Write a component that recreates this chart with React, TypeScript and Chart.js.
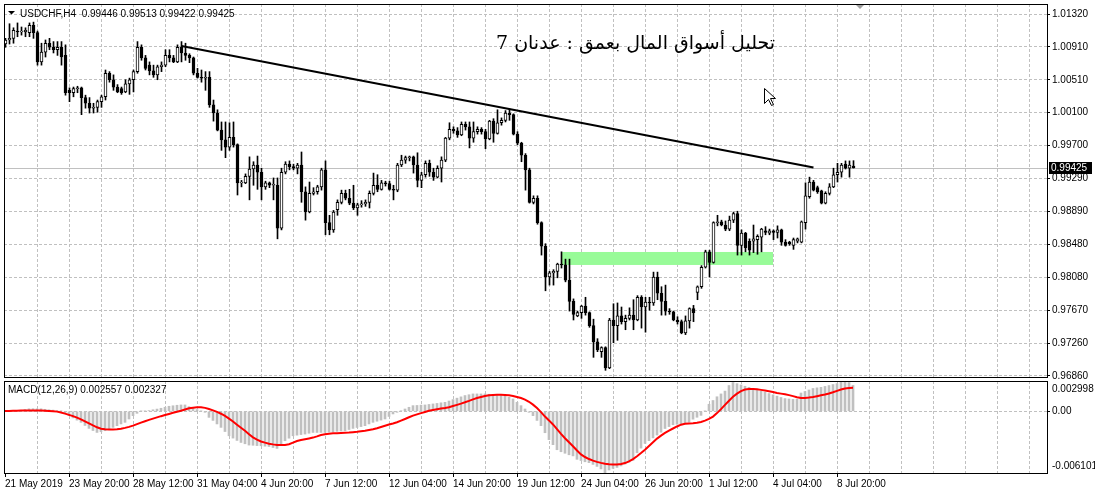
import React, { useEffect, useRef } from 'react';
import { Chart, registerables } from 'chart.js';

Chart.register(...registerables);

// ---------------- data ----------------
const SYMBOL_HEADER = 'USDCHF,H4  0.99446 0.99513 0.99422 0.99425';
const MACD_HEADER = 'MACD(12,26,9) 0.002557 0.002327';
const TITLE_AR = 'تحليل أسواق المال بعمق : عدنان 7';

const OPEN = [
  1.0095, 1.0100, 1.0102, 1.0111, 1.0110, 1.0110, 1.0109, 1.0118, 1.0109, 1.0073,
  1.0085, 1.0096, 1.0091, 1.0088, 1.0091, 1.0081, 1.0038, 1.0035, 1.0040, 1.0041,
  1.0029, 1.0022, 1.0016, 1.0017, 1.0024, 1.0030, 1.0059, 1.0051, 1.0042, 1.0040,
  1.0036, 1.0046, 1.0051, 1.0061, 1.0091, 1.0078, 1.0069, 1.0062, 1.0057, 1.0067,
  1.0069, 1.0081, 1.0078, 1.0073, 1.0091, 1.0084, 1.0081, 1.0078, 1.0059, 1.0054,
  1.0053, 1.0054, 1.0020, 1.0010, 0.9989, 0.9977, 0.9968, 0.9980, 0.9971, 0.9924,
  0.9924, 0.9932, 0.9941, 0.9946, 0.9937, 0.9919, 0.9924, 0.9921, 0.9921, 0.9868,
  0.9937, 0.9947, 0.9944, 0.9942, 0.9946, 0.9913, 0.9888, 0.9911, 0.9913, 0.9919,
  0.9940, 0.9875, 0.9866, 0.9891, 0.9900, 0.9911, 0.9905, 0.9899, 0.9893, 0.9897,
  0.9898, 0.9900, 0.9911, 0.9921, 0.9916, 0.9924, 0.9923, 0.9916, 0.9915, 0.9946,
  0.9952, 0.9955, 0.9956, 0.9946, 0.9927, 0.9934, 0.9948, 0.9937, 0.9931, 0.9942,
  0.9952, 0.9979, 0.9990, 0.9988, 0.9983, 0.9996, 0.9993, 0.9979, 0.9987, 0.9990,
  0.9987, 0.9978, 1.0000, 0.9985, 0.9998, 1.0001, 1.0010, 1.0008, 0.9984, 0.9973,
  0.9958, 0.9940, 0.9900, 0.9905, 0.9875, 0.9846, 0.9808, 0.9813, 0.9815, 0.9824,
  0.9823, 0.9804, 0.9778, 0.9760, 0.9764, 0.9772, 0.9764, 0.9748, 0.9728, 0.9716,
  0.9721, 0.9696, 0.9755, 0.9748, 0.9760, 0.9753, 0.9757, 0.9761, 0.9755, 0.9783,
  0.9771, 0.9777, 0.9776, 0.9808, 0.9788, 0.9778, 0.9766, 0.9765, 0.9755, 0.9753,
  0.9739, 0.9754, 0.9769, 0.9789, 0.9796, 0.9820, 0.9839, 0.9826, 0.9875, 0.9876,
  0.9872, 0.9867, 0.9878, 0.9886, 0.9847, 0.9862, 0.9852, 0.9852, 0.9854, 0.9857,
  0.9865, 0.9862, 0.9865, 0.9863, 0.9866, 0.9851, 0.9851, 0.9847, 0.9852, 0.9851,
  0.9875, 0.9907, 0.9925, 0.9918, 0.9914, 0.9899, 0.9911, 0.9919, 0.9934, 0.9937,
  0.9947, 0.9942, 0.99446,
];

const HIGH = [
  1.0102, 1.0120, 1.0115, 1.0121, 1.0116, 1.0115, 1.0121, 1.0122, 1.0111, 1.0096,
  1.0100, 1.0102, 1.0098, 1.0098, 1.0098, 1.0094, 1.0041, 1.0042, 1.0043, 1.0042,
  1.0032, 1.0029, 1.0022, 1.0026, 1.0032, 1.0063, 1.0061, 1.0057, 1.0045, 1.0042,
  1.0051, 1.0053, 1.0063, 1.0098, 1.0094, 1.0081, 1.0073, 1.0069, 1.0069, 1.0073,
  1.0088, 1.0088, 1.0081, 1.0094, 1.0098, 1.0096, 1.0083, 1.0079, 1.0065, 1.0063,
  1.0061, 1.0061, 1.0026, 1.0014, 0.9999, 0.9999, 0.9998, 0.9999, 0.9972, 0.9927,
  0.9935, 0.9956, 0.9950, 0.9957, 0.9942, 0.9926, 0.9925, 0.9930, 0.9930, 0.9942,
  0.9950, 0.9951, 0.9947, 0.9948, 0.9962, 0.9919, 0.9925, 0.9918, 0.9921, 0.9942,
  0.9951, 0.9884, 0.9890, 0.9903, 0.9915, 0.9915, 0.9916, 0.9921, 0.9899, 0.9902,
  0.9903, 0.9914, 0.9936, 0.9934, 0.9927, 0.9926, 0.9926, 0.9921, 0.9948, 0.9958,
  0.9957, 0.9957, 0.9957, 0.9961, 0.9937, 0.9951, 0.9952, 0.9942, 0.9945, 0.9956,
  0.9980, 0.9998, 0.9993, 0.9992, 0.9999, 0.9999, 0.9999, 0.9999, 0.9993, 0.9992,
  0.9990, 1.0001, 1.0003, 1.0014, 1.0004, 1.0013, 1.0015, 1.0009, 0.9987, 0.9974,
  0.9960, 0.9942, 0.9908, 0.9908, 0.9876, 0.9849, 0.9815, 0.9817, 0.9825, 0.9839,
  0.9830, 0.9830, 0.9781, 0.9766, 0.9773, 0.9783, 0.9765, 0.9756, 0.9732, 0.9722,
  0.9722, 0.9757, 0.9775, 0.9776, 0.9771, 0.9761, 0.9770, 0.9780, 0.9785, 0.9785,
  0.9783, 0.9783, 0.9814, 0.9814, 0.9796, 0.9798, 0.9769, 0.9766, 0.9759, 0.9755,
  0.9760, 0.9770, 0.9773, 0.9797, 0.9822, 0.9841, 0.9841, 0.9876, 0.9884, 0.9878,
  0.9877, 0.9883, 0.9888, 0.9889, 0.9866, 0.9863, 0.9855, 0.9872, 0.9860, 0.9868,
  0.9870, 0.9867, 0.9866, 0.9871, 0.9867, 0.9854, 0.9852, 0.9856, 0.9856, 0.9877,
  0.9924, 0.9931, 0.9927, 0.9920, 0.9915, 0.9913, 0.9923, 0.9942, 0.9948, 0.9948,
  0.9951, 0.9951, 0.99513,
];

const LOW = [
  1.0091, 1.0095, 1.0096, 1.0104, 1.0106, 1.0104, 1.0104, 1.0102, 1.0069, 1.0069,
  1.0079, 1.0088, 1.0084, 1.0081, 1.0069, 1.0032, 1.0024, 1.0030, 1.0035, 1.0008,
  1.0016, 1.0010, 1.0010, 1.0011, 1.0017, 1.0026, 1.0048, 1.0038, 1.0035, 1.0033,
  1.0035, 1.0033, 1.0036, 1.0059, 1.0075, 1.0063, 1.0057, 1.0054, 1.0051, 1.0061,
  1.0067, 1.0073, 1.0072, 1.0072, 1.0073, 1.0075, 1.0072, 1.0057, 1.0053, 1.0048,
  1.0038, 1.0017, 1.0000, 0.9988, 0.9964, 0.9955, 0.9964, 0.9968, 0.9909, 0.9919,
  0.9923, 0.9903, 0.9921, 0.9916, 0.9903, 0.9916, 0.9918, 0.9903, 0.9855, 0.9866,
  0.9935, 0.9940, 0.9940, 0.9935, 0.9900, 0.9878, 0.9887, 0.9909, 0.9910, 0.9915,
  0.9860, 0.9860, 0.9863, 0.9884, 0.9898, 0.9903, 0.9897, 0.9891, 0.9884, 0.9894,
  0.9895, 0.9893, 0.9909, 0.9913, 0.9915, 0.9920, 0.9915, 0.9903, 0.9913, 0.9944,
  0.9948, 0.9951, 0.9936, 0.9919, 0.9918, 0.9931, 0.9932, 0.9927, 0.9930, 0.9925,
  0.9950, 0.9977, 0.9985, 0.9980, 0.9982, 0.9989, 0.9967, 0.9974, 0.9984, 0.9984,
  0.9966, 0.9977, 0.9974, 0.9984, 0.9995, 0.9999, 1.0001, 0.9983, 0.9971, 0.9950,
  0.9915, 0.9899, 0.9898, 0.9873, 0.9835, 0.9791, 0.9798, 0.9798, 0.9807, 0.9819,
  0.9802, 0.9766, 0.9755, 0.9759, 0.9757, 0.9761, 0.9746, 0.9709, 0.9716, 0.9709,
  0.9693, 0.9695, 0.9727, 0.9730, 0.9750, 0.9743, 0.9755, 0.9743, 0.9754, 0.9745,
  0.9740, 0.9767, 0.9773, 0.9780, 0.9761, 0.9761, 0.9762, 0.9754, 0.9750, 0.9738,
  0.9737, 0.9745, 0.9753, 0.9780, 0.9794, 0.9819, 0.9808, 0.9825, 0.9871, 0.9871,
  0.9865, 0.9865, 0.9875, 0.9835, 0.9835, 0.9839, 0.9835, 0.9838, 0.9836, 0.9839,
  0.9860, 0.9860, 0.9854, 0.9856, 0.9847, 0.9846, 0.9847, 0.9842, 0.9850, 0.9850,
  0.9867, 0.9905, 0.9914, 0.9911, 0.9898, 0.9898, 0.9909, 0.9918, 0.9925, 0.9931,
  0.9941, 0.9931, 0.99422,
];

const CLOSE = [
  1.0100, 1.0102, 1.0112, 1.0110, 1.0111, 1.0112, 1.0118, 1.0109, 1.0073, 1.0085,
  1.0096, 1.0091, 1.0088, 1.0091, 1.0079, 1.0035, 1.0035, 1.0040, 1.0041, 1.0029,
  1.0022, 1.0016, 1.0017, 1.0024, 1.0030, 1.0059, 1.0051, 1.0042, 1.0036, 1.0035,
  1.0046, 1.0051, 1.0061, 1.0091, 1.0078, 1.0065, 1.0062, 1.0057, 1.0067, 1.0069,
  1.0081, 1.0078, 1.0073, 1.0091, 1.0084, 1.0081, 1.0078, 1.0059, 1.0054, 1.0053,
  1.0054, 1.0020, 1.0010, 0.9989, 0.9977, 0.9968, 0.9980, 0.9971, 0.9924, 0.9925,
  0.9932, 0.9941, 0.9946, 0.9937, 0.9919, 0.9924, 0.9921, 0.9922, 0.9868, 0.9937,
  0.9947, 0.9944, 0.9942, 0.9946, 0.9913, 0.9888, 0.9911, 0.9913, 0.9919, 0.9940,
  0.9875, 0.9866, 0.9888, 0.9900, 0.9911, 0.9905, 0.9899, 0.9893, 0.9897, 0.9898,
  0.9900, 0.9911, 0.9921, 0.9916, 0.9924, 0.9923, 0.9916, 0.9915, 0.9946, 0.9952,
  0.9955, 0.9956, 0.9946, 0.9927, 0.9934, 0.9948, 0.9937, 0.9931, 0.9942, 0.9952,
  0.9979, 0.9990, 0.9988, 0.9983, 0.9996, 0.9993, 0.9979, 0.9987, 0.9990, 0.9987,
  0.9978, 1.0000, 0.9985, 0.9998, 1.0001, 1.0010, 1.0008, 0.9984, 0.9973, 0.9958,
  0.9940, 0.9900, 0.9905, 0.9875, 0.9846, 0.9808, 0.9813, 0.9815, 0.9824, 0.9823,
  0.9804, 0.9778, 0.9762, 0.9764, 0.9772, 0.9764, 0.9748, 0.9728, 0.9718, 0.9721,
  0.9696, 0.9755, 0.9748, 0.9760, 0.9753, 0.9757, 0.9761, 0.9755, 0.9783, 0.9771,
  0.9777, 0.9776, 0.9808, 0.9788, 0.9778, 0.9766, 0.9765, 0.9755, 0.9753, 0.9739,
  0.9754, 0.9769, 0.9764, 0.9796, 0.9820, 0.9839, 0.9826, 0.9875, 0.9876, 0.9872,
  0.9867, 0.9878, 0.9886, 0.9847, 0.9862, 0.9844, 0.9841, 0.9855, 0.9858, 0.9867,
  0.9863, 0.9865, 0.9863, 0.9866, 0.9851, 0.9847, 0.9849, 0.9854, 0.9855, 0.9876,
  0.9908, 0.9925, 0.9915, 0.9913, 0.9899, 0.9911, 0.9919, 0.9934, 0.9937, 0.9946,
  0.9942, 0.9946, 0.99425,
];

const MACD_MAIN = [
  0.00005, 0.00007, 0.00008, 0.00010, 0.00010, 0.00018, 0.00025, 0.00026, 0.00025, 0.00025,
  0.00020, 0.00015, 0.00012, 0.00008, 0.00005, -0.00015, -0.00043, -0.00065, -0.00087, -0.00109,
  -0.00140, -0.00169, -0.00190, -0.00209, -0.00202, -0.00192, -0.00176, -0.00159, -0.00142, -0.00125,
  -0.00109, -0.00076, -0.00043, -0.00020, 0.00001, 0.00004, 0.00007, 0.00015, 0.00022, 0.00030,
  0.00040, 0.00050, 0.00055, 0.00060, 0.00063, 0.00063, 0.00046, 0.00030, 0.00017, 0.00003,
  -0.00010, -0.00060, -0.00090, -0.00125, -0.00159, -0.00200, -0.00242, -0.00265, -0.00288, -0.00308,
  -0.00321, -0.00334, -0.00336, -0.00339, -0.00341, -0.00345, -0.00348, -0.00358, -0.00367, -0.00330,
  -0.00291, -0.00266, -0.00242, -0.00236, -0.00230, -0.00225, -0.00217, -0.00209, -0.00209, -0.00209,
  -0.00209, -0.00205, -0.00202, -0.00198, -0.00195, -0.00192, -0.00180, -0.00169, -0.00160, -0.00151,
  -0.00142, -0.00125, -0.00109, -0.00098, -0.00087, -0.00076, -0.00051, -0.00026, -0.00010, 0.00006,
  0.00023, 0.00040, 0.00056, 0.00058, 0.00061, 0.00063, 0.00068, 0.00073, 0.00078, 0.00084,
  0.00089, 0.00102, 0.00116, 0.00130, 0.00143, 0.00156, 0.00164, 0.00172, 0.00172, 0.00172,
  0.00172, 0.00169, 0.00166, 0.00163, 0.00160, 0.00156, 0.00139, 0.00122, 0.00089, 0.00056,
  0.00023, -0.00010, -0.00043, -0.00090, -0.00142, -0.00212, -0.00280, -0.00330, -0.00380, -0.00400,
  -0.00415, -0.00430, -0.00441, -0.00475, -0.00487, -0.00499, -0.00508, -0.00525, -0.00545, -0.00570,
  -0.006101, -0.00580, -0.00565, -0.00555, -0.00540, -0.00522, -0.00503, -0.00485, -0.00410, -0.00364,
  -0.00318, -0.00290, -0.00263, -0.00235, -0.00207, -0.00170, -0.00151, -0.00133, -0.00128, -0.00122,
  -0.00114, -0.00107, -0.00078, -0.00059, -0.00040, 0.00004, 0.00070, 0.00107, 0.00144, 0.00172,
  0.00200, 0.00255, 0.00285, 0.00274, 0.00261, 0.00248, 0.00237, 0.00226, 0.00211, 0.00200,
  0.00189, 0.00176, 0.00163, 0.00150, 0.00137, 0.00126, 0.00122, 0.00118, 0.00120, 0.00181,
  0.00196, 0.00211, 0.00226, 0.00232, 0.00237, 0.00246, 0.00255, 0.00265, 0.00274, 0.00287,
  0.002998, 0.00285, 0.002557,
];

const MACD_SIGNAL = [
  0.00003, 0.00004, 0.00005, 0.00006, 0.00007, 0.00008, 0.00008, 0.00008, 0.00007, 0.00007,
  0.00005, 0.00003, 0.00001, -0.00003, -0.00012, -0.00023, -0.00035, -0.00048, -0.00062, -0.00080,
  -0.00100, -0.00120, -0.00140, -0.00158, -0.00172, -0.00178, -0.00180, -0.00180, -0.00178, -0.00172,
  -0.00164, -0.00154, -0.00142, -0.00127, -0.00112, -0.00098, -0.00085, -0.00072, -0.00060, -0.00048,
  -0.00037, -0.00026, -0.00015, -0.00005, 0.00006, 0.00018, 0.00030, 0.00036, 0.00039, 0.00040,
  0.00034, 0.00023, 0.00009, -0.00006, -0.00024, -0.00046, -0.00072, -0.00100, -0.00132, -0.00163,
  -0.00193, -0.00226, -0.00258, -0.00280, -0.00298, -0.00310, -0.00320, -0.00327, -0.00332, -0.00334,
  -0.00332, -0.00325, -0.00310, -0.00294, -0.00284, -0.00276, -0.00268, -0.00260, -0.00248, -0.00235,
  -0.00226, -0.00221, -0.00218, -0.00216, -0.00214, -0.00212, -0.00210, -0.00206, -0.00202, -0.00197,
  -0.00192, -0.00185, -0.00178, -0.00167, -0.00155, -0.00143, -0.00131, -0.00120, -0.00108, -0.00092,
  -0.00076, -0.00059, -0.00043, -0.00030, -0.00018, -0.00006, 0.00005, 0.00013, 0.00020, 0.00027,
  0.00033, 0.00040, 0.00052, 0.00064, 0.00076, 0.00089, 0.00103, 0.00118, 0.00131, 0.00142,
  0.00152, 0.00159, 0.00162, 0.00164, 0.00164, 0.00162, 0.00158, 0.00152, 0.00142, 0.00131,
  0.00116, 0.00094, 0.00066, 0.00032, -0.00008, -0.00052, -0.00090, -0.00130, -0.00176, -0.00224,
  -0.00266, -0.00306, -0.00346, -0.00388, -0.00426, -0.00452, -0.00472, -0.00488, -0.00500, -0.00510,
  -0.00518, -0.00523, -0.00525, -0.00525, -0.00522, -0.00512, -0.00495, -0.00472, -0.00444, -0.00413,
  -0.00380, -0.00343, -0.00306, -0.00270, -0.00240, -0.00213, -0.00190, -0.00170, -0.00150, -0.00132,
  -0.00124, -0.00120, -0.00117, -0.00112, -0.00105, -0.00092, -0.00075, -0.00052, -0.00018, 0.00022,
  0.00064, 0.00105, 0.00144, 0.00175, 0.00200, 0.00215, 0.00220, 0.00220, 0.00218, 0.00212,
  0.00205, 0.00198, 0.00190, 0.00182, 0.00175, 0.00168, 0.00160, 0.00150, 0.00140, 0.00132,
  0.00132, 0.00136, 0.00142, 0.00150, 0.00158, 0.00166, 0.00176, 0.00188, 0.00202, 0.00216,
  0.00225, 0.00230, 0.002327,
];

const PRICE_TICK_LABELS = [
  '0.96860', '0.97260', '0.97670', '0.98080', '0.98480', '0.98890',
  '0.99290', '0.99700', '1.00100', '1.00510', '1.00910', '1.01320',
];
const PRICE_GRID_BOTTOM = 0.9686;
const PRICE_GRID_TOP = 1.0132;

const DATE_TICK_BARS = [0, 16, 32, 48, 64, 80, 96, 112, 128, 144, 160, 176, 192, 208];
const DATE_TICK_TEXT = [
  '21 May 2019', '23 May 20:00', '28 May 12:00', '31 May 04:00', '4 Jun 20:00', '7 Jun 12:00',
  '12 Jun 04:00', '14 Jun 20:00', '19 Jun 12:00', '24 Jun 04:00', '26 Jun 20:00', '1 Jul 12:00',
  '4 Jul 04:00', '8 Jul 20:00',
];

const TREND_BARS = [44, 202];
const TREND_PRICES = [1.00925, 0.9943];

const ZONE_BARS = [139, 192];
const ZONE_PRICES = [0.98228, 0.98388];

const BID = 0.99425;
const BID_TEXT = '0.99425';

const MACD_MIN = -0.006101;
const MACD_MAX = 0.002998;
const MACD_TICK_LABELS = ['-0.006101', '0.00', '0.002998'];

// ---------------- layout constants ----------------
const W = 1095;
const H = 496;
const GRID = '#c0c0c0';
const FONT = { family: 'Liberation Sans', size: 10 };
const GRID_BARS = Array.from({ length: 33 }, (_, k) => k * 8);

function framePlugin(id: string) {
  return {
    id,
    afterDraw(chart: any) {
      const { ctx, chartArea } = chart;
      ctx.save();
      ctx.strokeStyle = '#000';
      ctx.lineWidth = 1;
      ctx.strokeRect(chartArea.left + 0.5, chartArea.top + 0.5, chartArea.right - chartArea.left, chartArea.bottom - chartArea.top);
      ctx.restore();
    },
  };
}

const mainOverlay = {
  id: 'mainOverlay',
  beforeDatasetsDraw(chart: any) {
    const { ctx, chartArea, scales } = chart;
    const x = scales.x;
    const y = scales.y;
    ctx.save();
    const zx1 = Math.round(x.getPixelForValue(ZONE_BARS[0]) - 0.5);
    const zx2 = Math.round(x.getPixelForValue(ZONE_BARS[1]) - 0.5);
    const zy1 = y.getPixelForValue(ZONE_PRICES[1]);
    const zy2 = y.getPixelForValue(ZONE_PRICES[0]);
    ctx.fillStyle = '#98fb98';
    ctx.fillRect(zx1, zy1, zx2 - zx1, zy2 - zy1);
    const by = Math.round(y.getPixelForValue(BID)) + 0.5;
    ctx.strokeStyle = GRID;
    ctx.lineWidth = 1;
    ctx.beginPath();
    ctx.moveTo(chartArea.left, by);
    ctx.lineTo(chartArea.right, by);
    ctx.stroke();
    ctx.restore();
  },
  afterDraw(chart: any) {
    const { ctx, chartArea, scales } = chart;
    const y = scales.y;
    ctx.save();
    ctx.fillStyle = '#000';
    ctx.beginPath();
    ctx.moveTo(8, 11);
    ctx.lineTo(15, 11);
    ctx.lineTo(11.5, 14.5);
    ctx.closePath();
    ctx.fill();
    ctx.font = '10px "Liberation Sans"';
    ctx.textBaseline = 'alphabetic';
    ctx.textAlign = 'left';
    ctx.fillText(SYMBOL_HEADER, 20, 17);
    ctx.font = '19px "DejaVu Serif", "DejaVu Sans", serif';
    (ctx as any).direction = 'rtl';
    ctx.textAlign = 'right';
    ctx.fillText(TITLE_AR, 775, 49);
    (ctx as any).direction = 'ltr';
    const by = Math.round(y.getPixelForValue(BID));
    ctx.fillStyle = '#000';
    ctx.fillRect(chartArea.right + 2, by - 6, 43, 12);
    ctx.fillStyle = '#fff';
    ctx.font = '10px "Liberation Sans"';
    ctx.textAlign = 'left';
    ctx.textBaseline = 'middle';
    ctx.fillText(BID_TEXT, chartArea.right + 4, by + 0.5);
    ctx.fillStyle = '#a0a0a0';
    ctx.beginPath();
    ctx.moveTo(855, 4);
    ctx.lineTo(865, 4);
    ctx.lineTo(860, 9);
    ctx.closePath();
    ctx.fill();
    const cx = 764.5, cy = 88.5;
    ctx.beginPath();
    ctx.moveTo(cx, cy);
    ctx.lineTo(cx, cy + 15);
    ctx.lineTo(cx + 4, cy + 11);
    ctx.lineTo(cx + 7, cy + 17);
    ctx.lineTo(cx + 9, cy + 16);
    ctx.lineTo(cx + 6, cy + 10);
    ctx.lineTo(cx + 11, cy + 10);
    ctx.closePath();
    ctx.fillStyle = '#fff';
    ctx.fill();
    ctx.strokeStyle = '#000';
    ctx.lineWidth = 1;
    ctx.stroke();
    ctx.restore();
  },
};

const macdOverlay = {
  id: 'macdOverlay',
  afterDraw(chart: any) {
    const { ctx } = chart;
    ctx.save();
    ctx.fillStyle = '#000';
    ctx.font = '10px "Liberation Sans"';
    ctx.textAlign = 'left';
    ctx.textBaseline = 'alphabetic';
    ctx.fillText(MACD_HEADER, 8, 393);
    ctx.restore();
  },
};

export default function App() {
  const mainRef = useRef<HTMLCanvasElement>(null);
  const macdRef = useRef<HTMLCanvasElement>(null);

  useEffect(() => {
    const bars = OPEN.map((_, i) => i);
    const wickData = bars.map((i) => ({ x: i, y: [LOW[i], HIGH[i]] }));
    const bodyData = bars.map((i) => ({ x: i, y: [OPEN[i], CLOSE[i]] }));
    const bodyColors = bars.map((i) => (CLOSE[i] >= OPEN[i] ? '#ffffff' : '#000000'));
    const trendData = TREND_BARS.map((b, k) => ({ x: b, y: TREND_PRICES[k] }));

    const perPx = (PRICE_GRID_TOP - PRICE_GRID_BOTTOM) / 362;
    const yMax = PRICE_GRID_TOP + 10 * perPx;
    const yMin = PRICE_GRID_BOTTOM - 1 * perPx;
    const step = (PRICE_GRID_TOP - PRICE_GRID_BOTTOM) / (PRICE_TICK_LABELS.length - 1);

    const mainChart = new Chart(mainRef.current as HTMLCanvasElement, {
      type: 'bar',
      data: {
        datasets: [
          { type: 'line', data: trendData, borderColor: '#000', borderWidth: 2, pointRadius: 0, tension: 0, order: -1 } as any,
          { data: bodyData, backgroundColor: bodyColors, borderColor: '#000', borderWidth: 1, borderSkipped: false, barThickness: 3, grouped: false, order: 0 } as any,
          { data: wickData, backgroundColor: '#000', borderWidth: 0, barThickness: 1, grouped: false, order: 1 } as any,
        ],
      },
      options: {
        animation: false,
        responsive: false,
        maintainAspectRatio: false,
        events: [],
        layout: { padding: { left: 4, top: 4, right: 0, bottom: H - 377 } },
        plugins: { legend: { display: false }, tooltip: { enabled: false } },
        scales: {
          x: {
            type: 'linear',
            min: -0.375,
            max: -0.375 + 1043 / 4,
            offset: false,
            afterBuildTicks: (s: any) => { s.ticks = GRID_BARS.map((v) => ({ value: v })); },
            ticks: { display: false, autoSkip: false },
            grid: { color: (c: any) => (c.tick && c.tick.value > 0 ? GRID : 'transparent'), drawTicks: false, offset: false },
            border: { display: false, dash: [3, 2] },
            afterFit: (s: any) => { s.height = 0; s.paddingLeft = 0; s.paddingRight = 0; },
          },
          y: {
            type: 'linear',
            position: 'right',
            min: yMin,
            max: yMax,
            afterBuildTicks: (s: any) => {
              s.ticks = PRICE_TICK_LABELS.map((_, k) => ({ value: PRICE_GRID_BOTTOM + k * step }));
            },
            ticks: { autoSkip: false, color: '#000', font: FONT, padding: 2, callback: (_v: any, i: number) => PRICE_TICK_LABELS[i] },
            grid: { color: GRID, tickColor: '#000', tickLength: 3 },
            border: { display: false, dash: [3, 2] },
            afterFit: (s: any) => { s.width = 48; s.paddingTop = 0; s.paddingBottom = 0; },
          },
        },
      } as any,
      plugins: [mainOverlay, framePlugin('mainFrame')],
    });

    const macdBars = MACD_MAIN.map((v, i) => ({ x: i, y: v }));
    const signalPts = MACD_SIGNAL.map((v, i) => ({ x: i, y: v }));
    const mPer = (MACD_MAX - MACD_MIN) / 92;
    const macdTickVals = [MACD_MIN + 7 * mPer, 0, MACD_MAX - 8 * mPer];

    const macdChart = new Chart(macdRef.current as HTMLCanvasElement, {
      type: 'bar',
      data: {
        datasets: [
          { type: 'line', data: signalPts, borderColor: '#ff0000', borderWidth: 2, pointRadius: 0, tension: 0, order: 0 } as any,
          { data: macdBars, backgroundColor: GRID, borderWidth: 0, barThickness: 2, grouped: false, order: 1 } as any,
        ],
      },
      options: {
        animation: false,
        responsive: false,
        maintainAspectRatio: false,
        events: [],
        layout: { padding: { left: 4, top: 381, right: 0, bottom: 3 } },
        plugins: { legend: { display: false }, tooltip: { enabled: false } },
        scales: {
          x: {
            type: 'linear',
            min: -0.25,
            max: -0.25 + 1043 / 4,
            offset: false,
            afterBuildTicks: (s: any) => { s.ticks = GRID_BARS.map((v) => ({ value: v })); },
            ticks: {
              autoSkip: false, maxRotation: 0, minRotation: 0, align: 'start', padding: 1, color: '#000', font: FONT,
              callback: (v: any) => {
                const k = DATE_TICK_BARS.indexOf(v);
                return k >= 0 ? DATE_TICK_TEXT[k] : '';
              },
            },
            grid: {
              color: (c: any) => (c.tick && c.tick.value > 0 ? GRID : 'transparent'),
              tickColor: (c: any) => (c.tick && DATE_TICK_BARS.indexOf(c.tick.value) >= 0 ? '#000' : 'transparent'),
              tickLength: 4,
              offset: false,
            },
            border: { display: false, dash: [3, 2] },
            afterFit: (s: any) => { s.height = 20; s.paddingLeft = 0; s.paddingRight = 0; },
          },
          y: {
            type: 'linear',
            position: 'right',
            min: MACD_MIN,
            max: MACD_MAX,
            afterBuildTicks: (s: any) => { s.ticks = macdTickVals.map((v) => ({ value: v })); },
            ticks: { autoSkip: false, color: '#000', font: FONT, padding: 2, callback: (_v: any, i: number) => MACD_TICK_LABELS[i] },
            grid: {
              color: (c: any) => (c.tick && c.tick.value === 0 ? GRID : 'transparent'),
              tickColor: (c: any) => (c.tick && c.tick.value === 0 ? '#000' : 'transparent'),
              tickLength: 3,
            },
            border: { display: false, dash: [3, 2] },
            afterFit: (s: any) => { s.width = 48; s.paddingTop = 0; s.paddingBottom = 0; },
          },
        },
      } as any,
      plugins: [macdOverlay, framePlugin('macdFrame')],
    });

    return () => {
      mainChart.destroy();
      macdChart.destroy();
    };
  }, []);

  const canvasStyle: React.CSSProperties = { position: 'absolute', left: 0, top: 0, width: W, height: H };
  return (
    <div style={{ position: 'absolute', left: 0, top: 0, width: W, height: H, background: '#fff', overflow: 'hidden' }}>
      <canvas ref={mainRef} width={W} height={H} style={canvasStyle} />
      <canvas ref={macdRef} width={W} height={H} style={canvasStyle} />
    </div>
  );
}
